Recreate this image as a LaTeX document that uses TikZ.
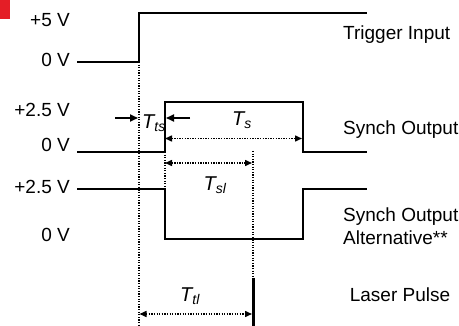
\documentclass[tikz,border=0pt]{standalone}
\usepackage{fontspec}
\setmainfont{Liberation Sans}
\usetikzlibrary{arrows.meta}
\definecolor{cornerred}{RGB}{228,30,38}
\begin{document}
\begin{tikzpicture}[x=1pt,y=-1pt,
  wave/.style={line width=1.9pt, line join=miter},
  dots/.style={line width=1.5pt, dash pattern=on 1.3pt off 1.3pt},
  dimarrow/.style={dots, {Triangle[length=7pt,width=6pt]}-{Triangle[length=7pt,width=6pt]}},
  solidarrow/.style={line width=1.7pt, -{Triangle[length=8pt,width=7pt]}},
  lvl/.style={anchor=east, font=\fontsize{19}{21}\selectfont, inner sep=0pt},
  sig/.style={anchor=west, font=\fontsize{19}{23}\selectfont, inner sep=0pt, align=left},
  tlabel/.style={font=\fontsize{20}{22}\selectfont\itshape, inner sep=0pt}]
\useasboundingbox (0,0) rectangle (459,326);
\fill[cornerred] (0,0) rectangle (9.5,19);
% level labels
\node[lvl] (l1) at (70,20) {+5 V};
\node[lvl] (l2) at (70,60) {0 V};
\node[lvl] (l3) at (70,110) {+2.5 V};
\node[lvl] (l4) at (70,145) {0 V};
\node[lvl] (l5) at (70,187) {+2.5 V};
\node[lvl] (l6) at (70,235) {0 V};
% signal labels
\node[sig] (s1) at (343,35) {Trigger Input};
\node[sig] (s2) at (343,130) {Synch Output};
\node[sig] (s3) at (343,226) {Synch Output\\Alternative**};
\node[font=\fontsize{19}{23}\selectfont, inner sep=0pt] (s4) at (400,295) {Laser Pulse};
% key time points
\coordinate (tA) at (139,62);
\coordinate (tB) at (165,152);
\coordinate (tC) at (303,152);
\coordinate (tL) at (253,278);
% waveforms
\draw[wave] (77,62) -- (139,62) -- (139,13) -- (367,13);
\draw[wave] (77,152) -- (165,152) -- (165,102) -- (303,102) -- (303,152) -- (367,152);
\draw[wave] (77,189) -- (165,189) -- (165,239) -- (303,239) -- (303,189) -- (367,189);
\draw[line width=3pt] (tL) -- (253,326);
% dotted guides
\draw[dots] (tA) -- (139,326);
\draw[dots] (tB) -- (165,189);
\draw[dots] (253,151) -- (tL);
% dimension arrows
\coordinate (a1) at (165,138.5);
\coordinate (a2) at (302,138.5);
\draw[dimarrow] (a1) -- (a2);
\coordinate (b1) at (165,163);
\coordinate (b2) at (252,163);
\draw[dimarrow] (b1) -- (b2);
\coordinate (c1) at (139.5,314);
\coordinate (c2) at (252,314);
\draw[dimarrow] (c1) -- (c2);
\coordinate (d1) at (115,118);
\coordinate (d2) at (138,118);
\coordinate (e1) at (190,118);
\coordinate (e2) at (166,118);
\draw[solidarrow] (d1) -- (d2);
\draw[solidarrow] (e1) -- (e2);
% time labels
\node[tlabel] (Tts) at (154,123) {T\textsubscript{ts}};
\node[tlabel] (Ts) at (242,120) {T\textsubscript{s}};
\node[tlabel] (Tsl) at (215,185) {T\textsubscript{sl}};
\node[tlabel] (Ttl) at (190,296) {T\textsubscript{tl}};
\end{tikzpicture}
\end{document}
